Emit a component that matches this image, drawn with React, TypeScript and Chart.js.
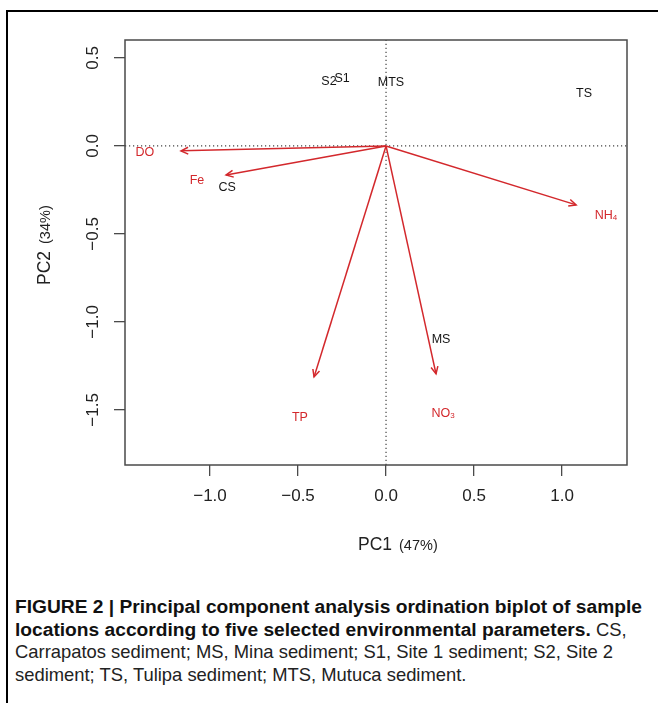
import React, { useEffect, useRef } from 'react';
import { Chart, registerables } from 'chart.js';

Chart.register(...registerables);

// ---- data ----
const sampleNames = ['S2', 'S1', 'MTS', 'TS', 'CS', 'MS'];
const samplePC1 = [-0.324, -0.25, 0.028, 1.125, -0.903, 0.3125];
const samplePC2 = [0.364, 0.381, 0.358, 0.295, -0.239, -1.102];

const varNames = ['DO', 'Fe', 'NH', 'TP', 'NO'];
const varSubs = ['', '', '4', '', '3'];
const varPC1 = [-1.165, -0.909, 1.08, -0.409, 0.284];
const varPC2 = [-0.028, -0.165, -0.335, -1.3125, -1.295];
const varLabelPC1 = [-1.37, -1.074, 1.25, -0.489, 0.324];
const varLabelPC2 = [-0.04, -0.199, -0.398, -1.545, -1.523];

const xRange = [-1.483, 1.369];
const yRange = [-1.813, 0.602];
const xTicks = [-1.0, -0.5, 0.0, 0.5, 1.0];
const yTicks = [-1.5, -1.0, -0.5, 0.0, 0.5];

const xTitle = ['PC1', '(47%)'];
const yTitle = ['PC2', '(34%)'];

const RED = '#d3282c';
const AXIS = '#4a4a4a';
const FONT = '"Liberation Sans", Arial, Helvetica, sans-serif';

const fmt = (v: number) => {
  const s = Math.abs(v).toFixed(1);
  return v < 0 ? '\u2212' + s : s;
};

const decor = {
  id: 'biplotDecor',
  afterDatasetsDraw(chart: any) {
    const { ctx, chartArea: a, scales } = chart;
    const x = scales.x;
    const y = scales.y;
    ctx.save();
    // box
    ctx.strokeStyle = AXIS;
    ctx.lineWidth = 1.5;
    ctx.strokeRect(a.left, a.top, a.right - a.left, a.bottom - a.top);

    // arrowheads
    const x0 = x.getPixelForValue(0);
    const y0 = y.getPixelForValue(0);
    ctx.strokeStyle = RED;
    ctx.lineWidth = 1.5;
    for (let i = 0; i < varPC1.length; i++) {
      const x1 = x.getPixelForValue(varPC1[i]);
      const y1 = y.getPixelForValue(varPC2[i]);
      const ang = Math.atan2(y1 - y0, x1 - x0);
      const L = 8;
      const th = Math.PI / 7;
      ctx.beginPath();
      ctx.moveTo(x1 - L * Math.cos(ang - th), y1 - L * Math.sin(ang - th));
      ctx.lineTo(x1, y1);
      ctx.lineTo(x1 - L * Math.cos(ang + th), y1 - L * Math.sin(ang + th));
      ctx.stroke();
    }

    // sample labels
    const sMeta = chart.getDatasetMeta(0);
    ctx.fillStyle = '#151515';
    ctx.font = `12.5px ${FONT}`;
    ctx.textAlign = 'center';
    ctx.textBaseline = 'middle';
    sMeta.data.forEach((el: any, i: number) => {
      ctx.fillText(sampleNames[i], el.x, el.y);
    });

    // variable labels
    const vMeta = chart.getDatasetMeta(1);
    vMeta.data.forEach((el: any, i: number) => {
      ctx.font = `12.5px ${FONT}`;
      const w1 = ctx.measureText(varNames[i]).width;
      ctx.font = `8px ${FONT}`;
      const w2 = varSubs[i] ? ctx.measureText(varSubs[i]).width : 0;
      const left = el.x - (w1 + w2) / 2;
      ctx.fillStyle = RED;
      ctx.textAlign = 'left';
      ctx.font = `12.5px ${FONT}`;
      ctx.fillText(varNames[i], left, el.y);
      if (varSubs[i]) {
        ctx.font = `8px ${FONT}`;
        ctx.fillText(varSubs[i], left + w1, el.y + 2);
      }
    });

    // y tick labels (rotated, R style)
    ctx.fillStyle = '#222';
    ctx.font = `17px ${FONT}`;
    y.ticks.forEach((t: any) => {
      const py = y.getPixelForValue(t.value);
      ctx.save();
      ctx.translate(93, py);
      ctx.rotate(-Math.PI / 2);
      ctx.textAlign = 'center';
      ctx.textBaseline = 'middle';
      ctx.fillText(fmt(t.value), 0, 0);
      ctx.restore();
    });

    // axis titles
    ctx.textAlign = 'left';
    ctx.textBaseline = 'middle';
    ctx.font = `17.5px ${FONT}`;
    const pw = ctx.measureText(xTitle[0]).width;
    ctx.fillText(xTitle[0], 358, 545);
    ctx.font = `14.5px ${FONT}`;
    ctx.fillText(xTitle[1], 358 + pw + 7, 546);

    ctx.save();
    ctx.translate(45, 285);
    ctx.rotate(-Math.PI / 2);
    ctx.font = `17.5px ${FONT}`;
    const qw = ctx.measureText(yTitle[0]).width;
    ctx.fillText(yTitle[0], 0, 0);
    ctx.font = `14.5px ${FONT}`;
    ctx.fillText(yTitle[1], qw + 7, 1);
    ctx.restore();

    ctx.restore();
  },
};

export default function App() {
  const ref = useRef<HTMLCanvasElement | null>(null);

  useEffect(() => {
    if (!ref.current) return;
    const arrowSets = varPC1.map((v, i) => ({
      type: 'line' as const,
      data: [
        { x: 0, y: 0 },
        { x: v, y: varPC2[i] },
      ],
      borderColor: RED,
      borderWidth: 1.5,
      pointRadius: 0,
      fill: false,
      order: 5,
    }));
    const chart = new Chart(ref.current, {
      type: 'scatter',
      data: {
        datasets: [
          {
            label: 'samples',
            data: samplePC1.map((v, i) => ({ x: v, y: samplePC2[i] })),
            pointRadius: 0,
            order: 1,
          } as any,
          {
            label: 'variables',
            data: varLabelPC1.map((v, i) => ({ x: v, y: varLabelPC2[i] })),
            pointRadius: 0,
            order: 2,
          } as any,
          ...arrowSets,
          {
            type: 'line',
            data: [
              { x: xRange[0], y: 0 },
              { x: xRange[1], y: 0 },
            ],
            borderColor: '#444',
            borderWidth: 1.2,
            borderDash: [1.2, 2.8],
            pointRadius: 0,
            order: 10,
          } as any,
          {
            type: 'line',
            data: [
              { x: 0, y: yRange[0] },
              { x: 0, y: yRange[1] },
            ],
            borderColor: '#444',
            borderWidth: 1.2,
            borderDash: [1.2, 2.8],
            pointRadius: 0,
            order: 10,
          } as any,
        ],
      },
      options: {
        responsive: false,
        animation: false,
        events: [],
        layout: { padding: { left: 0, top: 40, right: 31, bottom: 0 } },
        plugins: {
          legend: { display: false },
          tooltip: { enabled: false },
          title: { display: false },
        },
        scales: {
          x: {
            type: 'linear',
            min: xRange[0],
            max: xRange[1],
            afterBuildTicks: (s: any) => {
              s.ticks = xTicks.map((v) => ({ value: v }));
            },
            afterFit: (s: any) => {
              s.height = 125;
            },
            border: { display: false },
            grid: {
              drawOnChartArea: false,
              drawTicks: true,
              tickLength: 11,
              color: AXIS,
              lineWidth: 1.3,
            },
            ticks: {
              callback: (v: any) => fmt(Number(v)),
              font: { family: FONT, size: 17 },
              color: '#222',
              padding: 10,
              maxRotation: 0,
              autoSkip: false,
            },
          },
          y: {
            type: 'linear',
            min: yRange[0],
            max: yRange[1],
            afterBuildTicks: (s: any) => {
              s.ticks = yTicks.map((v) => ({ value: v }));
            },
            afterFit: (s: any) => {
              s.width = 125;
            },
            border: { display: false },
            grid: {
              drawOnChartArea: false,
              drawTicks: true,
              tickLength: 11,
              color: AXIS,
              lineWidth: 1.3,
            },
            ticks: { display: false },
          },
        },
      },
      plugins: [decor],
    });
    return () => chart.destroy();
  }, []);

  const captionStyle: React.CSSProperties = {
    position: 'absolute',
    left: 15,
    top: 596,
    width: 643,
    fontFamily: FONT,
    fontSize: 18.4,
    lineHeight: '22.5px',
    color: '#222',
    whiteSpace: 'nowrap',
  };
  const bold: React.CSSProperties = { fontWeight: 'bold', fontSize: 19.2, color: '#111' };

  return (
    <div
      style={{
        position: 'absolute',
        left: 0,
        top: 0,
        width: 658,
        height: 703,
        background: '#fff',
        overflow: 'hidden',
      }}
    >
      <div
        style={{
          position: 'absolute',
          left: 6,
          top: 10,
          width: 700,
          height: 720,
          borderLeft: '2px solid #000',
          borderTop: '2px solid #000',
        }}
      />
      <canvas
        ref={ref}
        width={658}
        height={590}
        style={{ position: 'absolute', left: 0, top: 0, width: 658, height: 590 }}
      />
      <div style={captionStyle}>
        <div style={{ height: 22.5 }}>
          <span style={bold}>
            FIGURE 2 | Principal component analysis ordination biplot of sample
          </span>
        </div>
        <div style={{ height: 22.5 }}>
          <span style={bold}>
            locations according to five selected environmental parameters.
          </span>{' '}
          CS,
        </div>
        <div style={{ height: 22.5 }}>
          Carrapatos sediment; MS, Mina sediment; S1, Site 1 sediment; S2, Site 2
        </div>
        <div style={{ height: 22.5 }}>sediment; TS, Tulipa sediment; MTS, Mutuca sediment.</div>
      </div>
    </div>
  );
}
